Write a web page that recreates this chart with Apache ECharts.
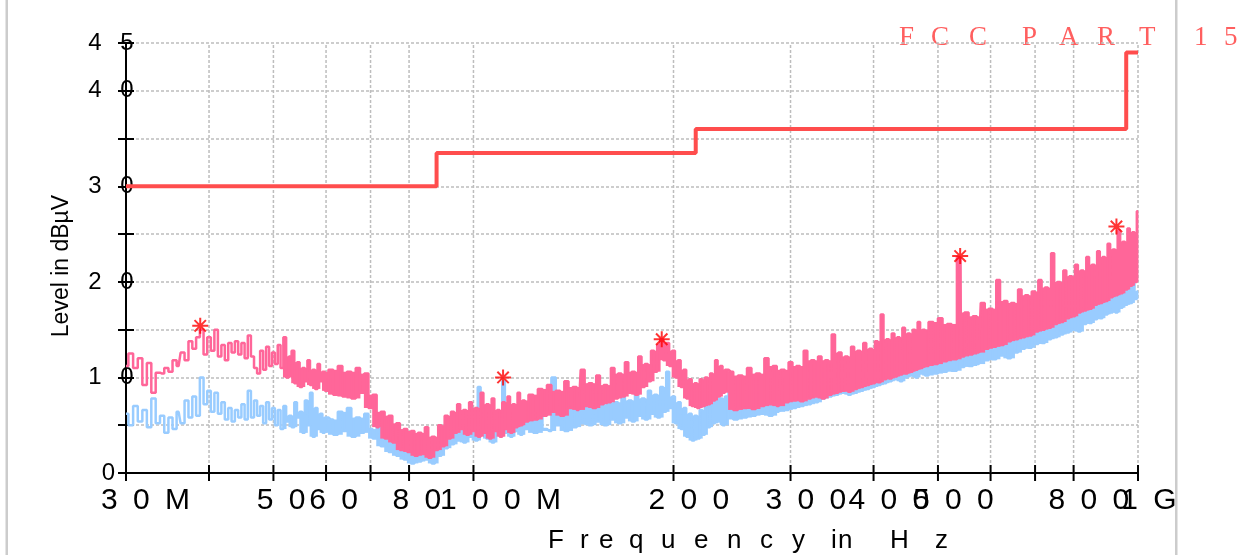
<!DOCTYPE html>
<html><head><meta charset="utf-8">
<script src="https://cdn.jsdelivr.net/npm/echarts@6/dist/echarts.min.js"></script>
<style>html,body{margin:0;padding:0;background:#fff}#c{width:1253px;height:555px}</style>
</head><body><div id="c"></div>
<script>
// ---- data ----
const freqMHz = [
30,30.5,31,31.5,32,32.5,33,33.5,34,34.5,35,35.5,36,36.5,37,37.5,38,38.5,39,39.5,40,40.5,41,41.5,42,42.5,43,43.5,44,44.5,45,45.5,46,46.5,47,47.5,48,48.5,49,49.5,50,50.5,51,51.5,52,52.5,53,53.5,54,54.5,55,55.5,56,56.5,57,57.5,58,58.5,59,59.5,60,
61,62,63,64,65,66,67,68,69,70,71,72,73,74,75,76,77,78,79,80,81,82,83,84,85,86,87,88,89,90,91,92,93,94,95,96,97,98,99,100,101,102,103,104,105,106,107,108,109,110,111,112,113,114,115,116,117,118,119,120,
122,124,126,128,130,132,134,136,138,140,142,144,146,148,150,152,154,156,158,160,162,164,166,168,170,172,174,176,178,180,182,184,186,188,190,192,194,196,198,200,202,204,206,208,210,212,214,216,218,220,222,224,226,228,230,232,234,236,238,240,
244,248,252,256,260,264,268,272,276,280,284,288,292,296,300,304,308,312,316,320,324,328,332,336,340,344,348,352,356,360,364,368,372,376,380,384,388,392,396,400,404,408,412,416,420,424,428,432,436,440,444,448,452,456,460,464,468,472,476,480,
488,496,504,512,520,528,540,544,552,560,568,576,584,592,600,608,616,624,632,640,648,656,664,672,680,688,696,704,712,720,728,736,744,752,760,768,776,784,792,800,808,816,824,832,840,848,856,864,872,880,888,896,904,912,920,928,936,944,952,960,968,976,984,992,1000
];
const peakLevel = [
11.2,12.5,11.0,12.0,9.2,11.5,8.4,10.5,10.4,11.0,10.6,11.8,11.2,12.6,11.8,13.8,13.0,14.2,15.0,12.4,14.2,12.8,15.0,12.2,13.4,11.8,13.6,12.6,13.8,12.4,13.6,12.0,14.4,12.2,11.0,10.4,12.8,10.8,13.2,11.2,12.6,11.4,13.4,11.0,14.2,10.0,12.2,12.8,9.4,11.6,9.0,11.0,9.6,11.8,9.2,10.8,8.8,11.4,9.6,10.6,8.6,
10.8,8.2,11.2,8.0,10.6,7.8,11.0,8.4,10.4,6.8,8.2,4.8,6.4,3.6,6.0,3.2,5.2,2.4,4.6,2.2,4.4,1.8,4.2,2.0,4.8,1.6,3.8,2.4,5.0,2.8,6.0,3.6,6.4,4.2,7.2,4.6,6.6,4.0,7.4,4.4,6.8,3.8,8.4,4.2,7.2,3.6,7.8,4.4,6.6,3.8,7.4,4.6,8.0,4.2,7.2,4.8,8.4,5.0,7.6,5.4,
8.2,5.6,8.8,6.0,9.2,6.4,8.6,6.0,9.6,6.8,9.0,6.6,10.8,7.0,9.4,6.8,10.2,7.2,9.2,7.4,11.0,7.8,10.4,8.0,11.6,8.4,10.6,8.2,12.2,9.0,11.4,9.6,12.8,10.6,13.4,14.0,11.8,13.6,11.2,12.8,10.0,11.8,9.0,10.8,7.8,9.8,7.0,9.4,6.8,9.8,7.0,10.0,7.2,10.4,7.6,11.8,8.0,11.2,8.4,10.8,
10.6,6.6,10.2,6.8,11.0,6.7,10.4,7.0,12.0,7.2,11.2,7.0,10.8,7.4,11.6,7.6,11.2,7.5,12.8,7.8,11.8,8.0,12.2,7.8,11.8,8.2,14.5,8.4,12.6,8.6,12.2,8.5,13.2,8.8,12.8,9.0,13.6,9.2,13.0,9.4,13.8,9.5,16.6,9.8,14.0,9.9,14.6,10.1,14.2,10.3,15.2,10.4,14.6,10.6,15.0,10.8,15.8,11.0,15.0,11.2,
15.8,11.4,16.2,11.7,15.6,11.9,22.6,12.2,16.8,12.4,16.4,12.6,17.8,13.0,17.2,13.2,20.2,13.4,18.0,13.8,17.8,14.0,19.2,14.2,18.6,14.4,19.0,14.8,20.2,15.0,19.4,15.2,23.0,15.6,20.0,15.8,21.2,16.2,20.6,16.4,21.8,16.8,21.2,17.0,22.6,17.2,21.8,17.6,23.2,17.8,22.6,18.0,24.0,18.4,23.4,18.6,25.4,18.8,24.2,19.2,25.6,19.6,25.2,20.0,27.4
];
const avgLevel = [
6.2,5.0,7.0,5.4,6.6,4.8,7.8,5.2,6.0,4.2,5.8,4.6,6.4,5.2,7.6,5.8,8.0,6.0,10.0,7.2,8.6,6.4,8.4,6.2,7.4,5.6,6.8,5.4,6.6,5.8,7.2,5.6,8.6,5.8,7.6,6.0,7.0,5.2,7.4,5.6,6.8,5.0,6.6,4.6,7.0,5.4,6.0,4.8,7.4,5.8,6.4,4.2,7.6,5.0,8.4,3.8,6.8,4.6,6.2,4.2,5.8,
5.6,4.0,6.4,4.4,6.8,3.8,5.8,4.2,6.2,4.6,3.6,5.0,2.8,4.4,2.2,4.0,1.8,3.6,1.4,3.2,1.0,3.4,1.2,3.8,1.4,3.0,1.0,3.6,1.8,4.2,2.6,5.0,3.0,5.4,3.4,5.8,3.2,6.2,3.8,5.6,3.4,9.0,4.0,6.2,3.6,5.8,3.2,6.4,4.0,4.4,9.6,4.2,6.6,3.8,6.0,4.4,6.8,4.0,6.4,4.6,
6.2,4.2,6.8,4.6,4.4,10.0,5.0,6.6,4.4,7.0,4.8,7.4,5.2,7.0,5.0,7.6,5.4,7.2,5.0,7.8,5.6,7.4,5.2,8.0,5.8,7.6,5.4,8.4,6.0,7.8,5.6,8.6,6.2,8.2,5.8,9.0,6.4,10.6,6.8,8.0,5.2,7.4,4.6,6.8,3.8,6.2,3.4,6.0,3.6,6.6,4.0,7.2,4.8,7.6,5.2,8.2,5.4,7.8,5.0,8.0,
8.6,5.6,8.0,5.8,8.4,6.0,8.8,6.2,8.6,6.0,9.0,6.4,8.8,6.6,9.4,6.8,9.2,7.0,9.6,7.2,10.0,7.4,9.8,7.8,10.4,8.0,10.8,8.2,11.2,8.4,11.6,8.2,12.0,8.4,12.2,8.6,12.6,8.8,12.4,9.0,12.8,9.2,13.0,9.4,13.2,9.6,13.4,9.8,13.6,9.6,14.0,10.0,13.8,10.2,14.2,10.0,14.4,10.4,14.0,10.2,
13.0,10.4,13.4,10.6,13.6,10.7,14.0,11.1,14.2,11.2,14.6,11.4,15.0,11.8,15.2,11.9,15.6,12.3,15.8,12.0,16.2,12.6,16.4,13.0,16.8,13.1,17.0,13.5,17.4,13.6,17.6,14.0,18.0,14.2,18.2,14.5,18.6,14.7,18.8,15.0,19.2,14.8,19.4,15.6,19.8,15.7,20.0,16.1,20.4,16.2,20.6,16.6,21.0,16.8,21.2,16.8,21.6,17.3,21.8,17.6,22.2,17.8,22.4,18.2,19.0
];
const limitFreq  = [30, 88, 88, 216, 216, 960, 960, 1000];
const limitLevel = [30, 30, 33.5, 33.5, 36, 36, 44, 44];
const markFreq  = [38.8, 110.8, 192, 540, 928];
const markLevel = [15.4, 10.0, 14.0, 22.7, 25.8];
const xTickValues = [30,40,50,60,70,80,100,200,300,400,500,600,700,800,1000];
const xTickLabels = ['30M','','50','60','','80','100M','200','300','400','500','','','800','1G'];
const yTickValues = [0,10,20,30,40,45];
const yTickLabels = ['0','10','20','30','40','45'];
const xTitle = 'Frequency in Hz';
const yTitle = 'Level in dB\u00b5V';
const limitName = 'FCC PART 15';

// ---- chart ----
const SANS = '"Liberation Sans", Arial, sans-serif';
const SERIF = '"Liberation Serif", "Times New Roman", serif';
const PINK = '#ff6699', BLUE = '#99ccff';
const DENSE_FROM = 52; // MHz: where the scan trace turns into a dense band
const chart = echarts.init(document.getElementById('c'), null, {renderer: 'canvas', width: 1253, height: 555});

const pair = (xs, ys) => xs.slice(0, Math.min(xs.length, ys.length)).map((x, i) => [x, ys[i]]);

function txt(ch, x, y, font, fill) {
  return {type: 'text', silent: true,
    style: {text: ch, x: x, y: y, font: font, fill: fill, align: 'left', verticalAlign: 'middle',
            textAlign: 'left', textVerticalAlign: 'middle'}};
}

function renderGrid(params, api) {
  const v = api.value(0);
  if (v <= 30) return null;
  const a = api.coord([v, 0]), b = api.coord([v, 45]);
  return {type: 'line', silent: true, shape: {x1: a[0], y1: a[1], x2: b[0], y2: b[1]},
          style: {stroke: '#bdbdbd', lineWidth: 1.5, lineDash: [3, 2]}};
}

// dense scan: each sample's column is filled between its level and its neighbours' levels
function columnRenderer(levels, color) {
  return function (params, api) {
    const i = params.dataIndex;
    const n = Math.min(freqMHz.length, levels.length);
    if (freqMHz[i] < DENSE_FROM) return null;
    const ip = Math.max(i - 1, 0), inx = Math.min(i + 1, n - 1);
    const v = levels[i], vp = levels[ip], vn = levels[inx];
    const lo = Math.min(v, vp, vn);
    const hi = Math.max(v, Math.min(vp, vn));
    const pc = api.coord([freqMHz[i], v]);
    const pp = api.coord([freqMHz[ip], vp]);
    const pn = api.coord([freqMHz[inx], vn]);
    const x0 = (pp[0] + pc[0]) / 2, x1 = (pc[0] + pn[0]) / 2;
    const yTop = api.coord([freqMHz[i], hi])[1], yBot = api.coord([freqMHz[i], lo])[1];
    return {type: 'rect', silent: true,
            shape: {x: x0 - 0.4, y: yTop, width: x1 - x0 + 0.8, height: yBot - yTop},
            style: {fill: color}};
  };
}

function renderTicks(params, api) {
  const v = api.value(0);
  const p = api.coord([v, 0]);
  const children = [{type: 'line', shape: {x1: p[0], y1: p[1] - 8, x2: p[0], y2: p[1] + 8},
                     style: {stroke: '#000', lineWidth: 2}}];
  const label = xTickLabels[params.dataIndex] || '';
  const fs = 30;
  let x = p[0] - label.length * 0.556 * fs / 2;
  for (const ch of label) {
    children.push(txt(ch, x, p[1] + 28, fs + 'px ' + SANS, '#000'));
    x += 32;
  }
  return {type: 'group', children: children};
}

const titlePos = [548, 580, 599, 629, 661, 694, 727, 760, 792, 831, 838, 890, 935];
const titleChars = xTitle.replace(/ /g, '').split('');
const fccPos = [899, 931, 969, 1022, 1059, 1097, 1139, 1194, 1224];
const fccChars = limitName.replace(/ /g, '').split('');

const graphic = [
  {type: 'rect', silent: true, shape: {x: 5.5, y: 0, width: 2.5, height: 555}, style: {fill: '#cccccc'}},
  {type: 'rect', silent: true, shape: {x: 1175, y: 0, width: 2.5, height: 555}, style: {fill: '#cccccc'}},
  {type: 'text', silent: true, x: 62, y: 266, rotation: Math.PI / 2,
   style: {text: yTitle, font: '23px ' + SANS, fill: '#000', align: 'center', verticalAlign: 'middle',
           textAlign: 'center', textVerticalAlign: 'middle'}}
];
titleChars.forEach((ch, i) => graphic.push(txt(ch, titlePos[i], 541, '26px ' + SANS, '#000')));
fccChars.forEach((ch, i) => graphic.push(txt(ch, fccPos[i], 38, '27px ' + SERIF, '#ff5f5f')));

const yFmt = v => {
  const i = yTickValues.indexOf(v);
  if (i < 0) return '';
  const s = yTickLabels[i];
  if (s.length === 1) return '{c|' + s + '}{p| }';
  return '{w|' + s[0] + '}{c|' + s[1] + '}';
};
const yRich = {
  w: {width: 32, align: 'left', fontSize: 24, fontFamily: SANS, color: '#000'},
  c: {align: 'left', fontSize: 24, fontFamily: SANS, color: '#000'},
  p: {width: 18.6, align: 'left', fontSize: 24, fontFamily: SANS, color: '#000'}
};

const option = {
  animation: false,
  backgroundColor: '#fff',
  textStyle: {fontFamily: SANS},
  grid: {left: 126, right: 115, top: 43, bottom: 82},
  xAxis: {
    type: 'log', logBase: 10, min: 30, max: 1000,
    axisLine: {show: true, onZero: false, lineStyle: {color: '#000', width: 2}},
    axisTick: {show: false}, axisLabel: {show: false}, splitLine: {show: false},
    minorTick: {show: false}, minorSplitLine: {show: false}
  },
  yAxis: [
    {
      type: 'value', min: 0, max: 45, interval: 5,
      axisLine: {show: true, lineStyle: {color: '#000', width: 2}},
      axisTick: {show: true, length: 8, lineStyle: {color: '#000', width: 2}},
      axisLabel: {margin: -7.6, formatter: yFmt, rich: yRich, fontSize: 24, color: '#000'},
      splitLine: {show: true, lineStyle: {color: '#bdbdbd', width: 1.5, type: [3, 2]}}
    },
    {
      type: 'value', min: 0, max: 45, interval: 5, position: 'left',
      axisLine: {show: false},
      axisTick: {show: true, inside: true, length: 8, lineStyle: {color: '#000', width: 2}},
      axisLabel: {show: false}, splitLine: {show: false}
    }
  ],
  series: [
    {type: 'custom', name: 'grid', z: 1, renderItem: renderGrid, data: xTickValues.map(v => [v, 0]),
     encode: {x: 0, y: 1}, silent: true},
    {type: 'custom', name: 'Average band', z: 2, renderItem: columnRenderer(avgLevel, BLUE),
     data: pair(freqMHz, avgLevel), encode: {x: 0, y: 1}, silent: true},
    {type: 'line', name: 'Average', z: 2, step: 'middle', data: pair(freqMHz, avgLevel), showSymbol: false, symbol: 'none',
     lineStyle: {color: BLUE, width: 2.5}, itemStyle: {color: BLUE}},
    {type: 'custom', name: 'Peak band', z: 3, renderItem: columnRenderer(peakLevel, PINK),
     data: pair(freqMHz, peakLevel), encode: {x: 0, y: 1}, silent: true},
    {type: 'line', name: 'Peak', z: 3, step: 'middle', data: pair(freqMHz, peakLevel), showSymbol: false, symbol: 'none',
     lineStyle: {color: PINK, width: 2.5}, itemStyle: {color: PINK}},
    {type: 'line', name: limitName, z: 4, data: pair(limitFreq, limitLevel), showSymbol: false, symbol: 'none',
     lineStyle: {color: '#ff4d4d', width: 4}, itemStyle: {color: '#ff4d4d'}},
    {type: 'scatter', name: 'Peaks', z: 5, data: pair(markFreq, markLevel),
     symbol: 'path://M0,-8L0,8M-8,0L8,0M-5.7,-5.7L5.7,5.7M-5.7,5.7L5.7,-5.7', symbolSize: 16,
     itemStyle: {color: 'rgba(0,0,0,0)', borderColor: '#ff0000', borderWidth: 2}},
    {type: 'custom', name: 'ticks', z: 6, renderItem: renderTicks, data: xTickValues.map(v => [v, 0]),
     encode: {x: 0, y: 1}, silent: true, clip: false}
  ],
  graphic: graphic
};
chart.setOption(option);
</script>
</body></html>
